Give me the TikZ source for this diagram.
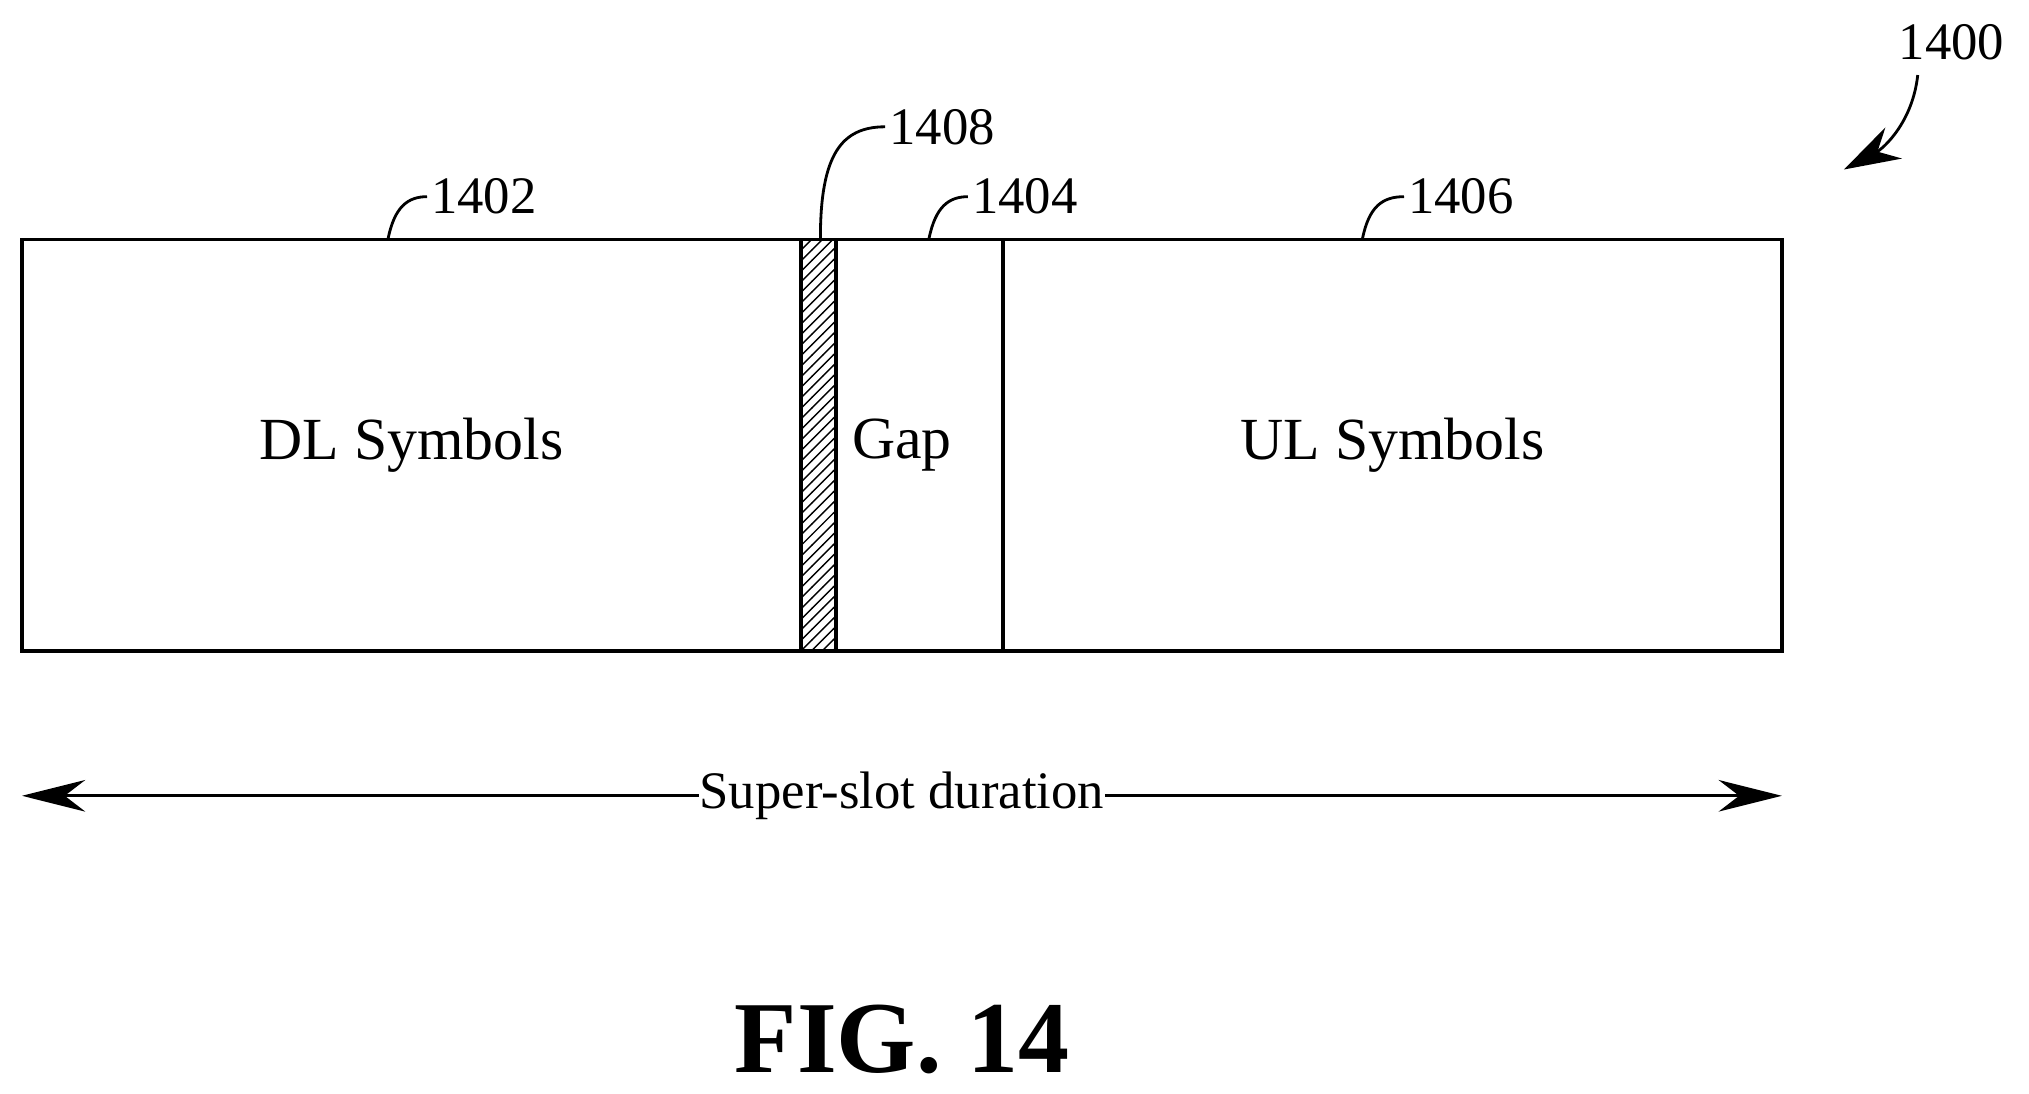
\documentclass[tikz,border=0pt]{standalone}
\usepackage{fontspec}
\setmainfont{Liberation Serif}
\usetikzlibrary{patterns,arrows.meta}
\tikzset{lbl/.style={font=\fontsize{15}{15}\selectfont, inner sep=1pt},
	big/.style={font=\fontsize{17}{17}\selectfont},
	box/.style={draw, line width=1pt},
	lead/.style={line width=0.8pt}}
\begin{document}
\begin{tikzpicture}[x=0.01294cm, y=-0.01294cm]
	\useasboundingbox (0,0) rectangle (1568,845);
	% slot blocks
	\draw[box] (17,185) rectangle (619,503);
	\draw[box, pattern=north east lines] (619,185) rectangle (646,503);
	\draw[box] (646,185) rectangle (775,503);
	\draw[box] (775,185) rectangle (1377,503);
	\node (dl) [big] at (318,344) {DL Symbols};
	\node (gap) [big] at (697,344) {Gap};
	\node (ul) [big] at (1076,344) {UL Symbols};
	% reference numerals
	\node (n1402) [lbl, anchor=west] at (330,152) {1402};
	\node (n1408) [lbl, anchor=west] at (684,98) {1408};
	\node (n1404) [lbl, anchor=west] at (748,152) {1404};
	\node (n1406) [lbl, anchor=west] at (1085,152) {1406};
	\node (n1400) [lbl, anchor=west] at (1464,33) {1400};
	\coordinate (t1402) at (300,184);
	\coordinate (t1408) at (634,184);
	\coordinate (t1404) at (718,184);
	\coordinate (t1406) at (1053,184);
	\coordinate (t1400) at (1425,131);
	\draw[lead] (t1402) .. controls (305,160) and (315,152) .. (n1402.west);
	\draw[lead] (t1408) .. controls (634,120) and (650,98) .. (n1408.west);
	\draw[lead] (t1404) .. controls (723,160) and (733,152) .. (n1404.west);
	\draw[lead] (t1406) .. controls (1058,160) and (1068,152) .. (n1406.west);
	\draw[lead, -{Stealth[length=16pt,width=10pt]}] (1482,58) .. controls (1478,95) and (1455,115) .. (t1400);
	% duration
	\coordinate (dl0) at (17,615);
	\coordinate (dl1) at (1377,615);
	\node (dur) [lbl, fill=white, inner sep=0pt] at (697,615) {Super-slot duration};
	\draw[lead, -{Stealth[length=18pt,width=9pt]}] (dur.west) -- (dl0);
	\draw[lead, -{Stealth[length=18pt,width=9pt]}] (dur.east) -- (dl1);
	\node (fig) [font=\bfseries\fontsize{29}{29}\selectfont] at (697,803) {FIG. 14};
\end{tikzpicture}
\end{document}
